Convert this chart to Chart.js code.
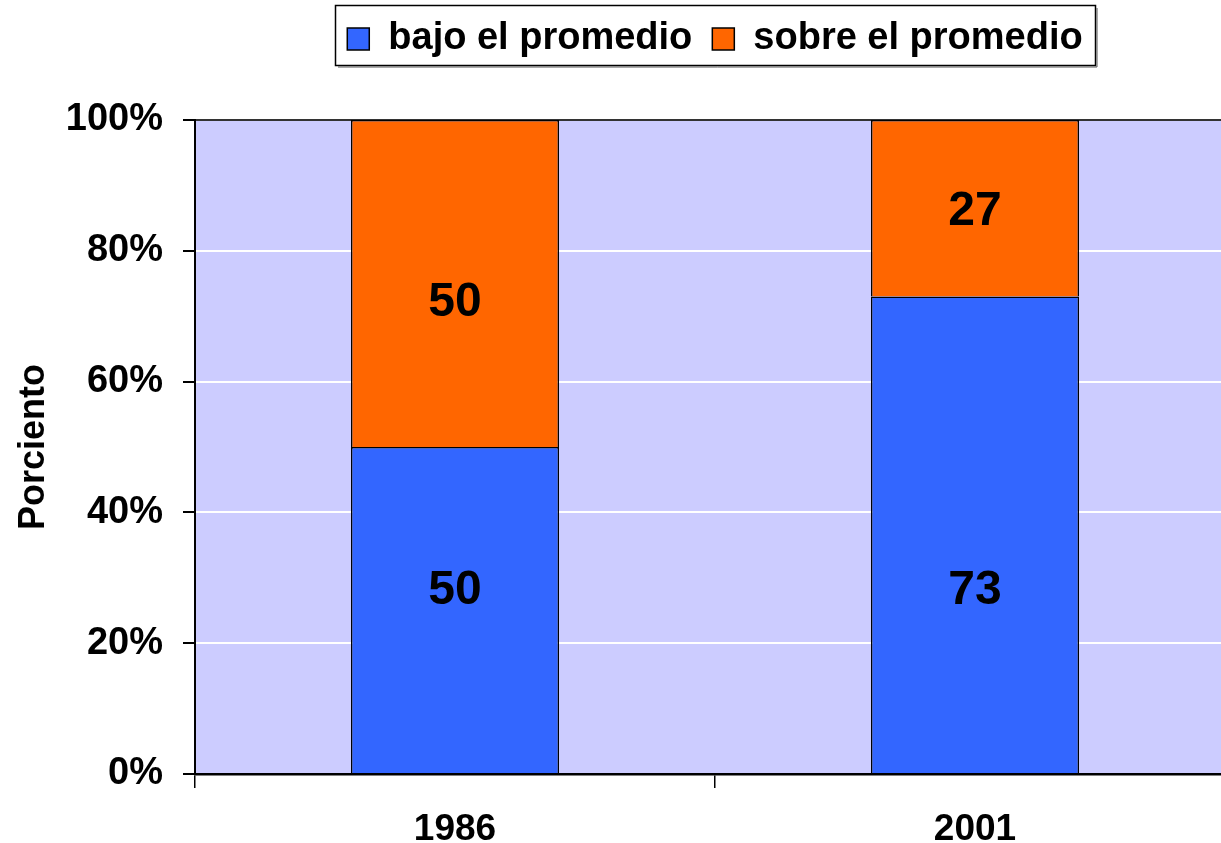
<!DOCTYPE html>
<html>
<head>
<meta charset="utf-8">
<script src="https://cdn.jsdelivr.net/npm/chart.js@4.4.1/dist/chart.umd.min.js"></script>
<style>
  html, body { margin: 0; padding: 0; background: #fff; }
  #wrap { width: 1221px; height: 843px; overflow: hidden; position: relative; }
  canvas { display: block; }
</style>
</head>
<body>
<div id="wrap"><canvas id="chart" width="1240" height="860"></canvas></div>
<script>
// data
var years = ['1986', '2001'];
var bajo = [50, 73];
var sobre = [50, 27];
var yTicks = [0, 20, 40, 60, 80, 100];
// where the value labels sit (in %), as placed in the original
var bajoLabelAt = [28, 28];
var sobreLabelAt = [72, 86];

var FONT = '"Liberation Sans", Arial, Helvetica, sans-serif';

// lavender plot background
var plotBg = {
    id: 'plotBg',
    beforeDraw: function (chart) {
        var a = chart.chartArea, c = chart.ctx;
        c.save();
        c.fillStyle = '#CCCCFF';
        c.fillRect(a.left, a.top, a.right - a.left, a.bottom - a.top);
        c.restore();
    }
};

// legend gets a taller slot so the plot starts lower
var legendSlot = {
    id: 'legendSlot',
    beforeLayout: function (chart) {
        var lg = chart.legend;
        if (!lg || lg._slotPatched) return;
        var fit = lg.fit;
        lg.fit = function () { fit.call(this); this.height = 120; };
        lg._slotPatched = true;
    }
};

// value labels inside the bar segments
var valueLabels = {
    id: 'valueLabels',
    afterDatasetsDraw: function (chart) {
        var c = chart.ctx, y = chart.scales.y;
        var pos = [bajoLabelAt, sobreLabelAt];
        c.save();
        c.font = 'bold 48px ' + FONT;
        c.fillStyle = '#000';
        c.textAlign = 'center';
        c.textBaseline = 'middle';
        chart.data.datasets.forEach(function (ds, i) {
            chart.getDatasetMeta(i).data.forEach(function (bar, j) {
                c.fillText(String(ds.data[j]), bar.x, y.getPixelForValue(pos[i][j]));
            });
        });
        c.restore();
    }
};

// box around the legend
var legendBox = {
    id: 'legendBox',
    afterDraw: function (chart) {
        var hb = chart.legend.legendHitBoxes;
        if (!hb || !hb.length) return;
        var l = Math.min.apply(null, hb.map(function (h) { return h.left; }));
        var r = Math.max.apply(null, hb.map(function (h) { return h.left + h.width; }));
        var t = Math.min.apply(null, hb.map(function (h) { return h.top; }));
        var b = Math.max.apply(null, hb.map(function (h) { return h.top + h.height; }));
        var x0 = Math.round(l - 12), x1 = Math.round(r + 12);
        var y0 = Math.round(t - 15), y1 = Math.round(b + 7);
        var c = chart.ctx;
        c.save();
        c.strokeStyle = '#000';
        c.lineWidth = 1.5;
        c.strokeRect(x0 + 0.5, y0 + 0.5, x1 - x0, y1 - y0);
        c.lineWidth = 1;
        c.strokeStyle = '#555';
        c.beginPath();
        c.moveTo(x1 + 2, y0 + 3); c.lineTo(x1 + 2, y1 + 2); c.lineTo(x0 + 3, y1 + 2);
        c.stroke();
        c.restore();
    }
};

new Chart(document.getElementById('chart'), {
    type: 'bar',
    data: {
        labels: years,
        datasets: [
            { label: 'bajo el promedio', data: bajo, backgroundColor: '#3366FF', borderColor: '#000', borderWidth: 1.5 },
            { label: 'sobre el promedio', data: sobre, backgroundColor: '#FF6600', borderColor: '#000', borderWidth: 1.5 }
        ]
    },
    options: {
        responsive: false,
        devicePixelRatio: 1,
        animation: false,
        layout: { padding: { top: 0, left: 0, right: 5, bottom: 0 } },
        datasets: { bar: { barPercentage: 0.4, categoryPercentage: 1 } },
        plugins: {
            tooltip: { enabled: false },
            legend: {
                position: 'top',
                fullSize: false,
                labels: {
                    color: '#000',
                    font: { family: FONT, size: 38, weight: 'bold' },
                    boxWidth: 22,
                    boxHeight: 22,
                    padding: 20
                }
            }
        },
        scales: {
            x: {
                stacked: true,
                afterFit: function (s) { s.height = 86; },
                grid: { offset: true, drawOnChartArea: false, tickLength: 14, tickColor: '#000', lineWidth: 1.5 },
                border: { color: '#000', width: 2.5 },
                ticks: { color: '#000', padding: 20, font: { family: FONT, size: 37, weight: 'bold' } }
            },
            y: {
                stacked: true,
                min: 0,
                max: 100,
                afterFit: function (s) { s.width = 195; },
                afterBuildTicks: function (s) { s.ticks = yTicks.map(function (v) { return { value: v }; }); },
                grid: {
                    color: function (ctx) { return ctx.tick && ctx.tick.value === 100 ? '#333' : '#fff'; },
                    lineWidth: 2,
                    tickLength: 12,
                    tickColor: '#000'
                },
                border: { color: '#000', width: 2 },
                ticks: {
                    color: '#000',
                    padding: 20,
                    font: { family: FONT, size: 38, weight: 'bold' },
                    callback: function (v) { return v + '%'; }
                },
                title: {
                    display: true,
                    text: 'Porciento',
                    color: '#000',
                    padding: { top: 12, bottom: 0 },
                    font: { family: FONT, size: 36, weight: 'bold' }
                }
            }
        }
    },
    plugins: [plotBg, legendSlot, valueLabels, legendBox]
});
</script>
</body>
</html>
